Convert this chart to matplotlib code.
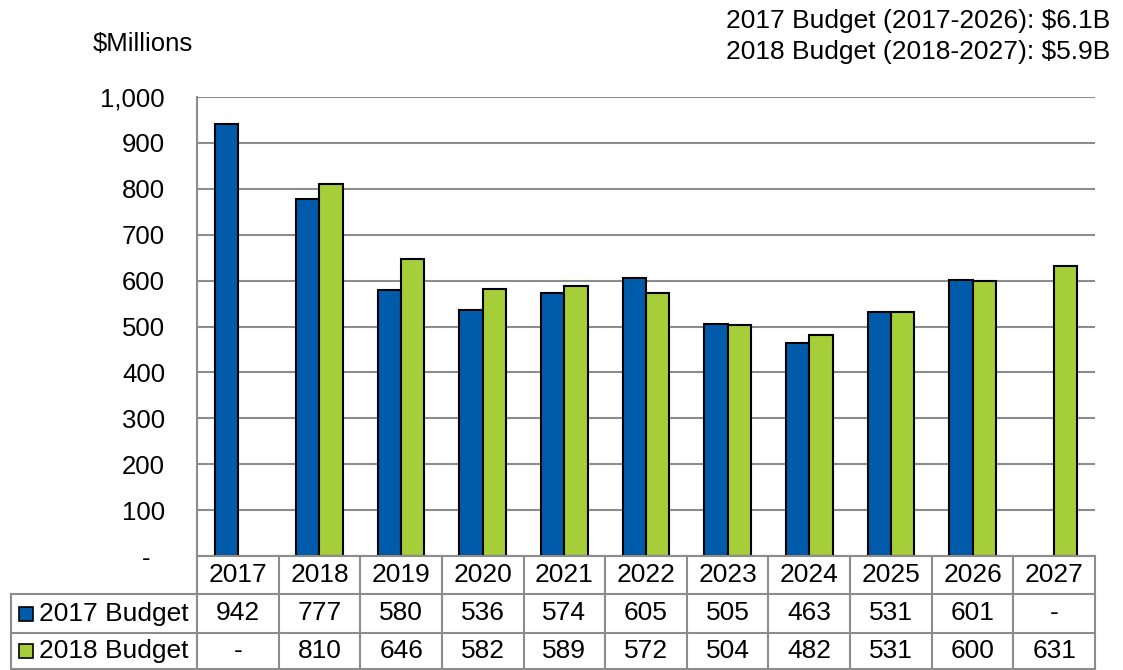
import matplotlib
matplotlib.use("Agg")
import matplotlib.pyplot as plt
from matplotlib.patches import Rectangle
from matplotlib.lines import Line2D
import numpy as np

plt.rcParams['font.family'] = ['Liberation Sans', 'DejaVu Sans']

years = ["2017", "2018", "2019", "2020", "2021", "2022", "2023", "2024", "2025", "2026", "2027"]
budget_2017 = [942, 777, 580, 536, 574, 605, 505, 463, 531, 601, None]
budget_2018 = [None, 810, 646, 582, 589, 572, 504, 482, 531, 600, 631]
series_names = ["2017 Budget", "2018 Budget"]
yticks = [0, 100, 200, 300, 400, 500, 600, 700, 800, 900, 1000]
summary = ["2017 Budget (2017-2026): $6.1B", "2018 Budget (2018-2027): $5.9B"]

BLUE = "#005BAA"
GREEN = "#A6CE39"
GRID = "#8C8C8C"
W, H = 1123, 670
FS = 19

fig = plt.figure(figsize=(W / 100, H / 100), dpi=100)
left, right, top, bottom = 197, 1095, 97, 556
ax = fig.add_axes([left / W, 1 - bottom / H, (right - left) / W, (bottom - top) / H])

x = np.arange(len(years))
bw = 0.285
v1 = [np.nan if v is None else v for v in budget_2017]
v2 = [np.nan if v is None else v for v in budget_2018]
ax.bar(x - bw / 2, v1, width=bw, color=BLUE, edgecolor="black", linewidth=1.5, zorder=3)
ax.bar(x + bw / 2, v2, width=bw, color=GREEN, edgecolor="black", linewidth=1.5, zorder=3)

ax.set_xlim(-0.5, len(years) - 0.5)
ax.set_ylim(0, 1000)
ax.set_yticks(yticks)
ax.set_yticklabels(["-  " if t == 0 else f"{t:,}" for t in yticks], fontsize=18.5)
ax.tick_params(axis="y", length=0, pad=23)
ax.set_xticks([])
ax.yaxis.grid(True, color=GRID, linewidth=1.5, zorder=0)
for s in ["top", "right", "bottom"]:
    ax.spines[s].set_visible(False)
ax.spines["left"].set_color(GRID)
ax.spines["left"].set_linewidth(1.5)

# Data table drawn in figure pixel coordinates
def fx(px):
    return px / W

def fy(py):
    return 1 - py / H

row_y = [556, 594, 633, 669]
table_left = 11
lc = GRID
lw = 1.5
cat_w = (right - left) / len(years)
fig.add_artist(Line2D([fx(left), fx(right)], [fy(row_y[0])] * 2, color=lc, lw=lw))
for ry in row_y[1:]:
    fig.add_artist(Line2D([fx(table_left), fx(right)], [fy(ry)] * 2, color=lc, lw=lw))
fig.add_artist(Line2D([fx(table_left)] * 2, [fy(row_y[1]), fy(row_y[3])], color=lc, lw=lw))
for i in range(len(years) + 1):
    vx = left + i * cat_w
    fig.add_artist(Line2D([fx(vx)] * 2, [fy(row_y[0]), fy(row_y[3])], color=lc, lw=lw))

def cell_text(txt, cx, r):
    cy = (row_y[r] + row_y[r + 1]) / 2
    fig.text(fx(cx), fy(cy), txt, ha="center", va="center", fontsize=FS)

for i, yr in enumerate(years):
    cx = left + (i + 0.5) * cat_w
    cell_text(yr, cx, 0)
    cell_text("-" if budget_2017[i] is None else str(budget_2017[i]), cx, 1)
    cell_text("-" if budget_2018[i] is None else str(budget_2018[i]), cx, 2)

for r, (name, col) in enumerate(zip(series_names, [BLUE, GREEN]), start=1):
    cy = (row_y[r] + row_y[r + 1]) / 2
    sq = 14
    fig.add_artist(Rectangle((fx(19), fy(cy + sq / 2)), sq / W, sq / H,
                             facecolor=col, edgecolor="black", lw=1.2))
    fig.text(fx(39), fy(cy), name, ha="left", va="center", fontsize=FS)

fig.text(fx(193), fy(51), "$Millions", ha="right", va="baseline", fontsize=18.5)
fig.text(fx(1110), fy(28), summary[0], ha="right", va="baseline", fontsize=19)
fig.text(fx(1110), fy(59), summary[1], ha="right", va="baseline", fontsize=19)

fig.savefig("out.png", dpi=100, facecolor="white")
